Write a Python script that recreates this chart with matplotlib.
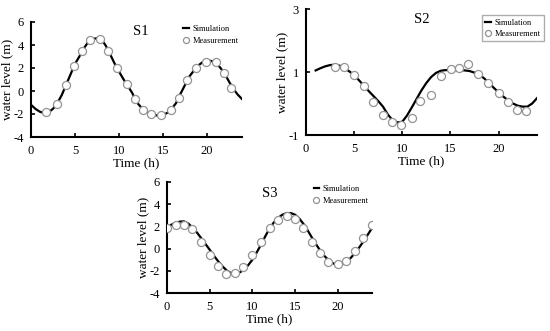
import matplotlib
matplotlib.use("Agg")
import matplotlib.pyplot as plt
import numpy as np

plt.rcParams['font.family'] = ['Liberation Serif', 'DejaVu Serif']

# ---------------- data ----------------
s1_sim_t = [0, 0.5, 1, 1.5, 2, 2.5, 3, 3.5, 4, 4.5, 5, 5.5, 6, 6.5, 7, 7.5, 8, 8.5, 9, 9.5,
            10, 10.5, 11, 11.5, 12, 12.5, 13, 13.5, 14, 14.5, 15, 15.5, 16, 16.5, 17, 17.5,
            18, 18.5, 19, 19.5, 20, 20.5, 21, 21.5, 22, 22.5, 23, 23.5, 24]
s1_sim = [-1.2, -1.55, -1.8, -1.92, -1.85, -1.55, -1.05, -0.35, 0.55, 1.45, 2.35, 3.0, 3.7,
          4.25, 4.5, 4.6, 4.5, 3.95, 3.2, 2.4, 1.7, 1.05, 0.45, -0.15, -0.95, -1.4, -1.75,
          -1.95, -2.08, -2.15, -2.1, -1.9, -1.55, -1.05, -0.25, 0.5, 1.25, 1.75, 2.2, 2.5,
          2.62, 2.62, 2.45, 2.05, 1.55, 0.85, 0.2, -0.3, -0.7]
s1_meas_t = [1.7, 3.0, 3.95, 4.9, 5.85, 6.7, 7.8, 8.75, 9.77, 10.9, 11.8, 12.7, 13.7, 14.8,
             15.9, 16.8, 17.8, 18.8, 19.96, 21.0, 22.0, 22.8]
s1_meas = [-1.82, -1.09, 0.48, 2.2, 3.5, 4.46, 4.55, 3.5, 2.0, 0.6, -0.7, -1.65, -1.97, -2.08,
           -1.65, -0.57, 0.97, 2.0, 2.5, 2.5, 1.55, 0.27]

s2_sim_t = [1, 1.5, 2, 2.5, 3, 3.5, 4, 4.5, 5, 5.5, 6, 6.5, 7, 7.5, 8, 8.5, 9, 9.5, 10, 10.5,
            11, 11.5, 12, 12.5, 13, 13.5, 14, 14.5, 15, 15.5, 16, 16.5, 17, 17.5, 18, 18.5,
            19, 19.5, 20, 20.5, 21, 21.5, 22, 22.5, 23, 23.5, 24]
s2_sim = [1.05, 1.12, 1.18, 1.22, 1.23, 1.2, 1.12, 1.02, 0.9, 0.74, 0.57, 0.4, 0.24, 0.08,
          -0.1, -0.35, -0.53, -0.6, -0.58, -0.38, -0.12, 0.15, 0.42, 0.65, 0.84, 0.97, 1.04,
          1.06, 1.06, 1.06, 1.06, 1.05, 1.03, 0.98, 0.92, 0.8, 0.66, 0.5, 0.36, 0.22, 0.1,
          0.0, -0.07, -0.1, -0.1, 0.0, 0.17]
s2_meas_t = [3.03, 3.9, 4.97, 5.98, 7.0, 8.0, 8.94, 9.9, 11.0, 11.86, 12.97, 13.98, 15.1,
             15.86, 16.87, 17.9, 18.9, 20.0, 21.0, 21.9, 22.9]
s2_meas = [1.15, 1.17, 0.91, 0.56, 0.06, -0.36, -0.58, -0.68, -0.47, 0.08, 0.28, 0.88, 1.1,
           1.12, 1.25, 0.95, 0.66, 0.34, 0.05, -0.2, -0.23]

s3_sim_t = [0, 0.5, 1, 1.5, 2, 2.5, 3, 3.5, 4, 4.5, 5, 5.5, 6, 6.5, 7, 7.5, 8, 8.5, 9, 9.5,
            10, 10.5, 11, 11.5, 12, 12.5, 13, 13.5, 14, 14.5, 15, 15.5, 16, 16.5, 17, 17.5,
            18, 18.5, 19, 19.5, 20, 20.5, 21, 21.5, 22, 22.5, 23, 23.5, 24]
s3_sim = [1.9, 2.15, 2.32, 2.43, 2.45, 2.25, 1.9, 1.45, 0.95, 0.42, -0.1, -0.65, -1.15, -1.6,
          -1.98, -2.2, -2.25, -2.15, -1.9, -1.5, -1.0, -0.35, 0.35, 1.1, 1.8, 2.35, 2.76,
          3.05, 3.2, 3.2, 3.05, 2.7, 2.2, 1.6, 0.95, 0.33, -0.25, -0.72, -1.1, -1.35, -1.45,
          -1.42, -1.2, -0.85, -0.4, 0.1, 0.65, 1.25, 1.85]
s3_meas_t = [0, 1.06, 2.04, 2.94, 4.0, 5.0, 6.0, 6.94, 8.0, 8.94, 10.0, 11.0, 12.04, 13.0,
             14.0, 14.98, 15.96, 17.0, 17.96, 18.9, 20.0, 20.98, 21.96, 22.94, 24.0]
s3_meas = [1.86, 2.16, 2.16, 1.77, 0.6, -0.55, -1.54, -2.26, -2.2, -1.63, -0.6, 0.62, 1.86,
           2.6, 2.9, 2.7, 1.86, 0.62, -0.4, -1.2, -1.36, -1.12, -0.25, 0.95, 2.16]

x_ticks = [0, 5, 10, 15, 20]
s1_yticks = [-4, -2, 0, 2, 4, 6]
s2_yticks = [-1, 1, 3]
s3_yticks = [-4, -2, 0, 2, 4, 6]

# ---------------- figure ----------------
W, H = 550, 331
fig = plt.figure(figsize=(W / 100, H / 100), dpi=100)


def make_ax(l, r, t, b):
    return fig.add_axes([l / W, 1 - b / H, (r - l) / W, (b - t) / H])


def style(ax, ylim, yticks, title, legend_frame, title_xy, leg_loc):
    ax.set_xlim(0, 24)
    ax.set_ylim(*ylim)
    ax.set_xticks(x_ticks)
    ax.set_yticks(yticks)
    ax.set_yticklabels([str(v) for v in yticks])
    for s in ['top', 'right']:
        ax.spines[s].set_visible(False)
    for s in ['left', 'bottom']:
        ax.spines[s].set_linewidth(1.5)
    ax.tick_params(direction='in', length=3, width=1.2, labelsize=9)
    ax.tick_params(axis='x', pad=6)
    ax.tick_params(axis='y', pad=5)
    ax.set_xlabel('Time (h)', fontsize=9.5, labelpad=0)
    ax.set_ylabel('water level (m)', fontsize=9.5, labelpad=0)
    ax.text(title_xy[0], title_xy[1], title, transform=ax.transAxes, fontsize=10.5,
            ha='center', va='center')
    leg = ax.legend(loc='upper right', bbox_to_anchor=leg_loc, fontsize=6,
                    frameon=legend_frame, handlelength=0.7, handletextpad=0.4,
                    labelspacing=0.4, borderpad=0.4, borderaxespad=0, fancybox=False,
                    markerscale=0.75)
    if legend_frame:
        leg.get_frame().set_edgecolor('#999999')
        leg.get_frame().set_linewidth(1.0)


def draw(ax, st, sv, mt, mv):
    ax.plot(st, sv, color='black', lw=1.6, label='Simulation', zorder=2)
    ax.plot(mt, mv, linestyle='none', marker='o', ms=5.8, mfc='white', mec='#939393',
            mew=0.9, label='Measurement', zorder=3)


ax1 = make_ax(31, 242, 22, 137)
draw(ax1, s1_sim_t, s1_sim, s1_meas_t, s1_meas)
style(ax1, (-4, 6), s1_yticks, 'S1', False, (0.52, 0.92), (1.0, 1.0))

ax2 = make_ax(306, 537, 9, 135)
draw(ax2, s2_sim_t, s2_sim, s2_meas_t, s2_meas)
style(ax2, (-1, 3), s2_yticks, 'S2', True, (0.5, 0.92), (1.03, 0.95))

ax3 = make_ax(167, 372, 182, 293)
draw(ax3, s3_sim_t, s3_sim, s3_meas_t, s3_meas)
style(ax3, (-4, 6), s3_yticks, 'S3', False, (0.5, 0.9), (1.0, 1.0))

fig.savefig('out.png', dpi=100)
